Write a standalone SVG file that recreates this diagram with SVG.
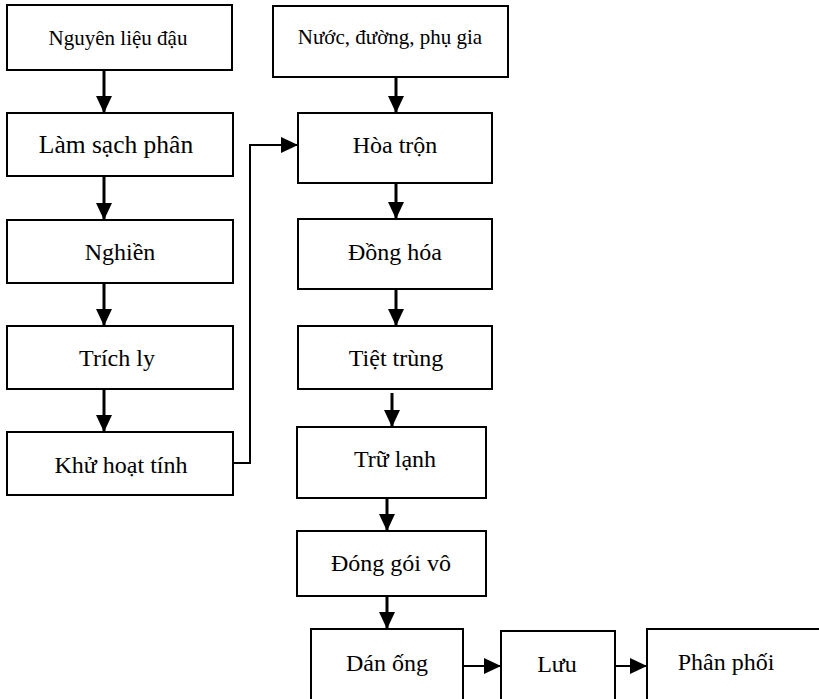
<svg xmlns="http://www.w3.org/2000/svg" width="819" height="699" viewBox="0 0 819 699">
<defs>
<marker id="ah" markerUnits="userSpaceOnUse" markerWidth="17" markerHeight="16" refX="17" refY="8" orient="auto">
<path d="M0,0 L17,8 L0,16 z" fill="#000"/>
</marker>
<style>
.box{fill:#fff;stroke:#000;stroke-width:2}
text{font-family:'Liberation Serif',serif;font-size:24px;fill:#000;text-anchor:middle}
text.s{font-size:21px}
text.l{font-size:25.5px}
.v{stroke:#000;stroke-width:3;fill:none}
.h{stroke:#000;stroke-width:2;fill:none}
</style>
</defs>
<rect width="819" height="699" fill="#fff"/>
<g id="connectors">
<line class="v" x1="104" y1="70" x2="104" y2="113" marker-end="url(#ah)"/>
<line class="v" x1="104" y1="176" x2="104" y2="220" marker-end="url(#ah)"/>
<line class="v" x1="104" y1="283" x2="104" y2="326" marker-end="url(#ah)"/>
<line class="v" x1="104" y1="389" x2="104" y2="432" marker-end="url(#ah)"/>
<path class="h" stroke-width="1.5" d="M233,463 H250 V145 H298" marker-end="url(#ah)"/>
<line class="v" x1="396" y1="77" x2="396" y2="113" marker-end="url(#ah)"/>
<line class="v" x1="396" y1="183" x2="396" y2="219" marker-end="url(#ah)"/>
<line class="v" x1="396" y1="289" x2="396" y2="326" marker-end="url(#ah)"/>
<line class="v" x1="392" y1="393" x2="392" y2="427" marker-end="url(#ah)"/>
<line class="v" x1="387" y1="498" x2="387" y2="531" marker-end="url(#ah)"/>
<line class="v" x1="387" y1="596" x2="387" y2="629" marker-end="url(#ah)"/>
<line class="h" x1="463" y1="666" x2="501" y2="666" marker-end="url(#ah)"/>
<line class="h" x1="615" y1="666" x2="647" y2="666" marker-end="url(#ah)"/>
</g>
<g id="n1"><rect class="box" x="7" y="5" width="225" height="65"/><text class="s" x="118" y="45">Nguyên liệu đậu</text></g>
<g id="n2"><rect class="box" x="7" y="113" width="226" height="63"/><text class="l" x="116" y="153">Làm sạch phân</text></g>
<g id="n3"><rect class="box" x="7" y="220" width="226" height="63"/><text x="120" y="260">Nghiền</text></g>
<g id="n4"><rect class="box" x="7" y="326" width="226" height="63"/><text x="117" y="366">Trích ly</text></g>
<g id="n5"><rect class="box" x="7" y="432" width="226" height="63"/><text x="121" y="473">Khử hoạt tính</text></g>
<g id="n6"><rect class="box" x="273" y="6" width="235" height="71"/><text class="s" x="390" y="44">Nước, đường, phụ gia</text></g>
<g id="n7"><rect class="box" x="298" y="113" width="194" height="70"/><text x="395" y="153">Hòa trộn</text></g>
<g id="n8"><rect class="box" x="298" y="219" width="194" height="70"/><text x="395" y="260">Đồng hóa</text></g>
<g id="n9"><rect class="box" x="298" y="326" width="194" height="63"/><text x="396" y="366">Tiệt trùng</text></g>
<g id="n10"><rect class="box" x="297" y="427" width="189" height="71"/><text x="395" y="467">Trữ lạnh</text></g>
<g id="n11"><rect class="box" x="297" y="531" width="189" height="65"/><text x="391" y="571">Đóng gói vô</text></g>
<g id="n12"><rect class="box" x="311" y="629" width="152" height="80"/><text x="387" y="671">Dán ống</text></g>
<g id="n13"><rect class="box" x="501" y="631" width="114" height="80"/><text x="557" y="672">Lưu</text></g>
<g id="n14"><rect class="box" x="647" y="629" width="185" height="80"/><text x="726" y="670">Phân phối</text></g>
</svg>
